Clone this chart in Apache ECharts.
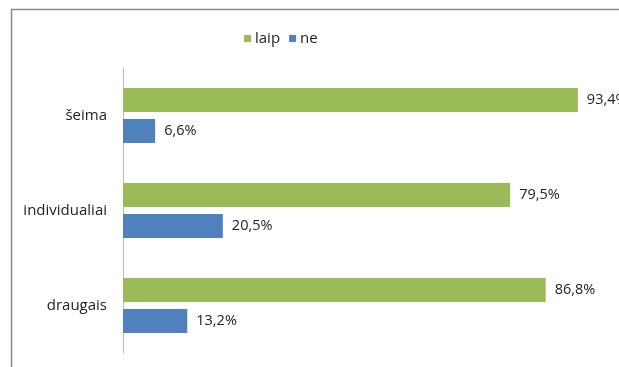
<!DOCTYPE html>
<html><head><meta charset="utf-8">
<script src="https://cdn.jsdelivr.net/npm/echarts@6/dist/echarts.min.js"></script>
<style>html,body{margin:0;padding:0;background:#fff}#c{width:619px;height:367px}</style>
</head><body><div id="c"></div>
<script>
const categories = ['šeima', 'individualiai', 'draugais'];
const seriesNames = ['laip', 'ne'];
const laip = [93.4, 79.5, 86.8];
const ne = [6.6, 20.5, 13.2];

const chart = echarts.init(document.getElementById('c'));
const fmt = p => p.value.toFixed(1).replace('.', ',') + '%';
const lbl = {show: true, position: 'right', distance: 9, color: '#222', fontSize: 14.5, fontFamily: 'Open Sans', formatter: fmt};
chart.setOption({
  animation: false,
  graphic: [{type: 'rect', shape: {x: 11.5, y: 9.5, width: 700, height: 400}, style: {fill: 'none', stroke: '#8a8a8a', lineWidth: 1.5}, silent: true}],
  legend: {top: 26, left: 239, itemWidth: 7, itemHeight: 7, itemGap: 9, icon: 'rect',
    textStyle: {fontSize: 15, fontFamily: 'Open Sans', color: '#222', padding: [0, 0, 0, -1]}, data: seriesNames},
  grid: {left: 123, top: 68, width: 487, height: 285},
  xAxis: {type: 'value', min: 0, max: 100, show: false},
  yAxis: {type: 'category', data: categories, inverse: true,
    axisLine: {lineStyle: {color: '#bbb', width: 1}}, axisTick: {show: false},
    axisLabel: {fontSize: 15, fontFamily: 'Open Sans', color: '#222', margin: 16}},
  series: [
    {name: seriesNames[0], type: 'bar', data: laip, barWidth: 24, barGap: '30%', itemStyle: {color: '#9BBB59'}, label: lbl},
    {name: seriesNames[1], type: 'bar', data: ne, barWidth: 24, barGap: '30%', itemStyle: {color: '#4F81BD'}, label: lbl}
  ]
});
</script></body></html>
